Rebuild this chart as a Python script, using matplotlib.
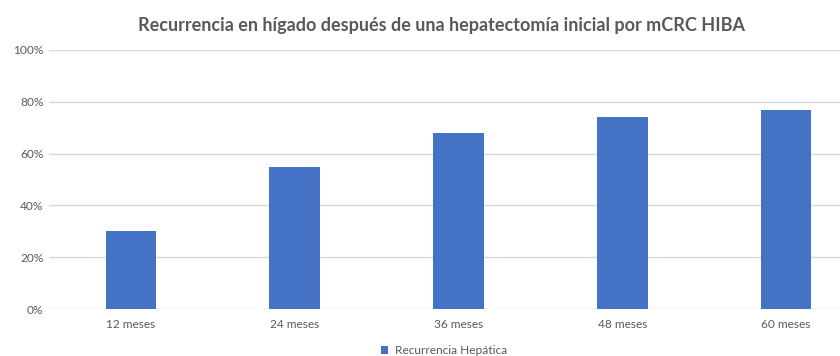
import numpy as np
import matplotlib
matplotlib.use('Agg')
import matplotlib.pyplot as plt
from matplotlib.ticker import PercentFormatter

# datos
categorias = ['12 meses', '24 meses', '36 meses', '48 meses', '60 meses']
recurrencia = [30, 55, 68, 74, 77]
serie = 'Recurrencia Hepática'
titulo = 'Recurrencia en hígado después de una hepatectomía inicial por mCRC HIBA'

plt.rcParams['font.family'] = ['Lato', 'DejaVu Sans']
gris = '#595959'
azul = '#4472C4'

W, H = 840, 356
fig = plt.figure(figsize=(W / 100, H / 100), dpi=100)

# el eje se sale por la derecha (la imagen original esta recortada)
left, right, top, bottom = 49, 868, 50, 309
ax = fig.add_axes([left / W, 1 - bottom / H, (right - left) / W, (bottom - top) / H])

x = np.arange(len(categorias))
ax.bar(x, recurrencia, width=0.31, color=azul, label=serie, zorder=3)

ax.set_xlim(-0.5, len(categorias) - 0.5)
ax.set_ylim(0, 100)
ax.set_yticks(np.arange(0, 101, 20))
ax.yaxis.set_major_formatter(PercentFormatter(decimals=0))
ax.set_xticks(x)
ax.set_xticklabels(categorias)
ax.grid(axis='y', color='#d9d9d9', linewidth=1, zorder=0)
for s in ax.spines.values():
    s.set_visible(False)
ax.tick_params(length=0, colors=gris, labelsize=8.6)
ax.tick_params(axis='y', pad=4)
ax.tick_params(axis='x', pad=7)

fig.text(441 / W, 1 - 25 / H, titulo, ha='center', va='center',
         fontsize=13, fontweight='bold', color=gris)

ax.legend(loc='center', bbox_to_anchor=(444 / W, 1 - 351 / H), bbox_transform=fig.transFigure,
          frameon=False, fontsize=8.6, labelcolor=gris, handlelength=0.6, handleheight=0.6,
          handletextpad=0.6)

fig.savefig('out.png', dpi=100)
